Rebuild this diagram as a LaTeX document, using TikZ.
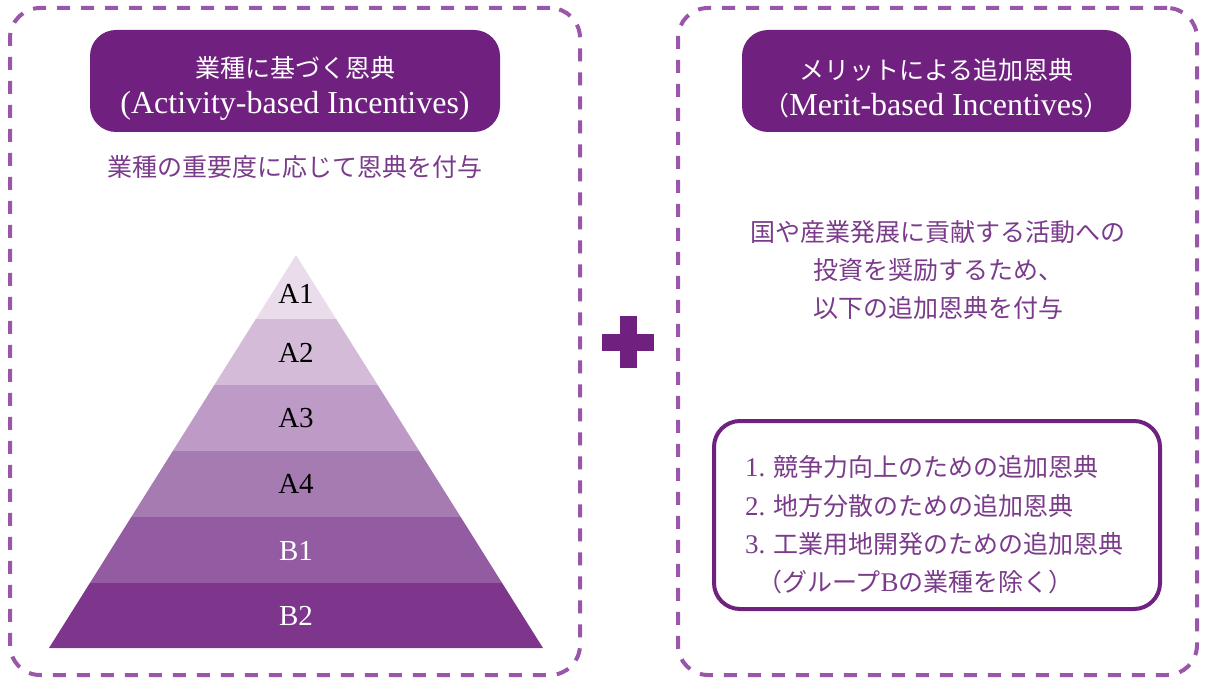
\documentclass[tikz,border=0pt]{standalone}
\usepackage{fontspec}
\setmainfont{Liberation Serif}
\newfontfamily\cjk{Noto Sans CJK JP}
\definecolor{darkpurple}{HTML}{70217F}
\definecolor{dashpurple}{HTML}{9A56A8}
\definecolor{textpurple}{HTML}{7A3B8B}
\definecolor{layA1}{HTML}{EADCEB}
\definecolor{layA2}{HTML}{D4BCD9}
\definecolor{layA3}{HTML}{BE9BC6}
\definecolor{layA4}{HTML}{A67BB2}
\definecolor{layB1}{HTML}{935BA1}
\definecolor{layB2}{HTML}{7D368C}
\begin{document}
\begin{tikzpicture}[x=1pt,y=-1pt,
  panel/.style={draw=dashpurple, line width=4pt, dash pattern=on 13pt off 11pt, rounded corners=30pt, inner sep=0pt},
  titlebox/.style={fill=darkpurple, rounded corners=26pt, inner sep=0pt},
  titletext/.style={text=white, align=center, inner sep=0pt, font=\fontsize{24}{36}\selectfont},
  bodytext/.style={text=textpurple, align=center, font=\fontsize{25}{38}\selectfont},
  listbox/.style={draw=darkpurple, line width=4pt, rounded corners=26pt, inner sep=0pt},
  laylabel/.style={font=\fontsize{29}{29}\selectfont}
]
\useasboundingbox (0,0) rectangle (1207,679);

% panels
\node[panel, minimum width=570pt, minimum height=667pt] (leftpanel) at (295,341.5) {};
\node[panel, minimum width=519pt, minimum height=667pt] (rightpanel) at (937.5,341.5) {};

% titles
\node[titlebox, minimum width=410pt, minimum height=102pt] (title1) at (295,81) {};
\node[titletext] (title1text) at (295,88)
  {{\cjk\fontsize{25}{25}\selectfont 業種に基づく恩典}\\[0pt]{\fontsize{32}{32}\selectfont (Activity-based Incentives)}};
\node[titlebox, minimum width=389pt, minimum height=102pt] (title2) at (936.5,81) {};
\node[titletext] (title2text) at (936.5,88)
  {{\cjk\fontsize{25}{25}\selectfont メリットによる追加恩典}\\[0pt]{\fontsize{32}{32}\selectfont{\cjk\fontsize{26}{26}\selectfont （}Merit-based Incentives{\cjk\fontsize{26}{26}\selectfont ）}}};

% left subtitle
\node[bodytext] (sub1) at (295,167) {\cjk 業種の重要度に応じて恩典を付与};

% pyramid
\fill[layA1] (296,255) -- (336.2,319) -- (255.8,319) -- cycle;
\fill[layA2] (255.8,319) -- (336.2,319) -- (377.7,385) -- (214.3,385) -- cycle;
\fill[layA3] (214.3,385) -- (377.7,385) -- (419.2,451) -- (172.8,451) -- cycle;
\fill[layA4] (172.8,451) -- (419.2,451) -- (460.7,517) -- (131.3,517) -- cycle;
\fill[layB1] (131.3,517) -- (460.7,517) -- (502.1,583) -- (89.9,583) -- cycle;
\fill[layB2] (89.9,583) -- (502.1,583) -- (543,648) -- (49,648) -- cycle;
\node[laylabel, text=black] (a1) at (296,294) {A1};
\node[laylabel, text=black] (a2) at (296,353) {A2};
\node[laylabel, text=black] (a3) at (296,418) {A3};
\node[laylabel, text=black] (a4) at (296,484) {A4};
\node[laylabel, text=white] (b1) at (296,551) {B1};
\node[laylabel, text=white] (b2) at (296,616) {B2};

% plus sign
\fill[darkpurple] (619.5,316) rectangle (636.5,368);
\fill[darkpurple] (602,333.5) rectangle (654,350.5);

% right body text
\node[bodytext] (sub2) at (938,270)
  {\cjk 国や産業発展に貢献する活動への\\ \cjk 投資を奨励するため、\\ \cjk 以下の追加恩典を付与};

% list box
\node[listbox, minimum width=446pt, minimum height=188pt] (list) at (937,515) {};
\node[text=textpurple, align=left, anchor=west, inner sep=0pt,
  font=\fontsize{25}{38.3}\selectfont] (items) at (745,525)
  {{\fontsize{27}{27}\selectfont 1.} {\cjk 競争力向上のための追加恩典}\\
   {\fontsize{27}{27}\selectfont 2.} {\cjk 地方分散のための追加恩典}\\
   {\fontsize{27}{27}\selectfont 3.} {\cjk 工業用地開発のための追加恩典}\\
   \hspace{12pt}{\cjk （グループ}{\fontsize{27}{27}\selectfont B}{\cjk の業種を除く）}};
\end{tikzpicture}
\end{document}
